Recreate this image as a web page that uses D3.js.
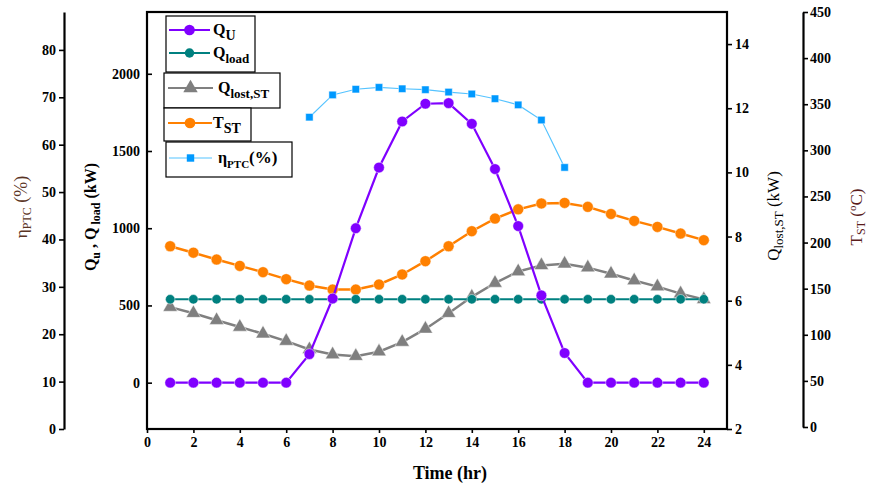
<!DOCTYPE html>
<html>
<head>
<meta charset="utf-8">
<script src="https://cdn.jsdelivr.net/npm/d3@7"></script>
<style>
  body { margin: 0; background: #fff; }
  svg text { font-family: "Liberation Serif", "Times New Roman", serif; }
  .tick text { font-size: 14px; font-weight: bold; fill: #000; }
</style>
</head>
<body>
<svg id="chart" width="870" height="486"></svg>
<script>
// 1. Data

var hours = [1, 2, 3, 4, 5, 6, 7, 8, 9, 10, 11, 12, 13, 14, 15, 16, 17, 18, 19, 20, 21, 22, 23, 24];

var qU = [0, 0, 0, 0, 0, 0, 185, 545, 1000, 1393, 1691, 1806, 1810, 1676, 1383, 1014, 565, 192, 0, 0, 0, 0, 0, 0];

var qLoad = [540, 540, 540, 540, 540, 540, 540, 540, 540, 540, 540, 540, 540, 540, 540, 540, 540, 540, 540, 540, 540, 540, 540, 540];

var qLost = [5.80, 5.61, 5.39, 5.18, 4.97, 4.74, 4.48, 4.32, 4.27, 4.41, 4.71, 5.12, 5.61, 6.12, 6.55, 6.91, 7.10, 7.15, 7.03, 6.84, 6.63, 6.44, 6.22, 6.04];

var tST = [196, 189, 181.6, 174.7, 167.9, 160.3, 153.4, 149, 149, 154.5, 165.4, 179.8, 196, 212.3, 226, 236, 242.4, 243, 238.7, 231, 223.5, 217, 209.8, 202.6];

var etaHours = [7, 8, 9, 10, 11, 12, 13, 14, 15, 16, 17, 18];
var eta = [65.8, 70.5, 71.7, 72.1, 71.8, 71.6, 71.1, 70.7, 69.7, 68.4, 65.2, 55.2];

var xTicks = [0, 2, 4, 6, 8, 10, 12, 14, 16, 18, 20, 22, 24];
var qTicks = [0, 500, 1000, 1500, 2000];
var etaTicks = [0, 10, 20, 30, 40, 50, 60, 70, 80];
var lostTicks = [2, 4, 6, 8, 10, 12, 14];
var tTicks = [0, 50, 100, 150, 200, 250, 300, 350, 400, 450];

// 2. Scales

var svg = d3.select("#chart");

var x = d3.scaleLinear().domain([0, 25]).range([147, 727]);
var yQ = d3.scaleLinear().domain([-300, 2400]).range([429, 12]);
var yLost = d3.scaleLinear().domain([2, 15]).range([429, 12]);
var yT = d3.scaleLinear().domain([0, 450]).range([427, 12]);
var yEta = d3.scaleLinear().domain([0, 88]).range([429, 12]);

var plain = d3.format("d");

// 3. Axes

svg.append("g")
    .attr("transform", "translate(0,429)")
    .call(d3.axisBottom(x).tickValues(xTicks).tickFormat(plain).tickSizeInner(4).tickSizeOuter(0).tickPadding(4))
    .call(function (g) { g.select(".domain").remove() });

svg.append("g")
    .attr("transform", "translate(147,0)")
    .call(d3.axisLeft(yQ).tickValues(qTicks).tickFormat(plain).tickSizeInner(-5).tickSizeOuter(0).tickPadding(7))
    .call(function (g) { g.select(".domain").remove() });

svg.append("g")
    .attr("transform", "translate(727,0)")
    .call(d3.axisRight(yLost).tickValues(lostTicks).tickFormat(plain).tickSizeInner(5).tickSizeOuter(0).tickPadding(3))
    .call(function (g) { g.select(".domain").remove() });

svg.append("g")
    .attr("transform", "translate(64,0)")
    .call(d3.axisLeft(yEta).tickValues(etaTicks).tickFormat(plain).tickSizeInner(5).tickSizeOuter(0).tickPadding(3));

svg.append("g")
    .attr("transform", "translate(803,0)")
    .call(d3.axisRight(yT).tickValues(tTicks).tickFormat(plain).tickSizeInner(5).tickSizeOuter(0).tickPadding(2));

svg.selectAll(".domain").attr("stroke-width", 2.2)
svg.selectAll(".tick line").attr("stroke-width", 1.6)

// plot frame
svg.append("rect")
    .attr("x", 147)
    .attr("y", 12)
    .attr("width", 580)
    .attr("height", 417)
    .attr("fill", "none")
    .attr("stroke", "black")
    .attr("stroke-width", 2.2)

// 4. Series

function drawLine(xs, ys, xScale, yScale, colour, width) {
    var line = d3.line()
        .x(function (d) { return xScale(d[0]) })
        .y(function (d) { return yScale(d[1]) });
    svg.append("path")
        .datum(d3.zip(xs, ys))
        .attr("d", line)
        .attr("fill", "none")
        .attr("stroke", colour)
        .attr("stroke-width", width)
}

function drawMarkers(xs, ys, xScale, yScale, colour, type, size) {
    svg.append("g")
        .selectAll("path")
        .data(d3.zip(xs, ys))
        .enter()
        .append("path")
        .attr("transform", function (d) { return "translate(" + xScale(d[0]) + "," + yScale(d[1]) + ")" })
        .attr("d", d3.symbol().type(type).size(size))
        .attr("fill", colour)
        .attr("stroke", "rgba(255,255,255,0.6)")
        .attr("stroke-width", 0.8)
}

drawLine(hours, tST, x, yT, "#ff8000", 2.5);
drawMarkers(hours, tST, x, yT, "#ff8000", d3.symbolCircle, 95);

drawLine(hours, qLost, x, yLost, "#808080", 2.5);
drawMarkers(hours, qLost, x, yLost, "#7f7f7f", d3.symbolTriangle, 90);

drawLine(hours, qLoad, x, yQ, "#008080", 2.2);
drawMarkers(hours, qLoad, x, yQ, "#00807f", d3.symbolCircle, 70);

drawLine(hours, qU, x, yQ, "#7f00ff", 2.2);
drawMarkers(hours, qU, x, yQ, "#8000ff", d3.symbolCircle, 90);

drawLine(etaHours, eta, x, yEta, "#55c3ff", 1.2);
drawMarkers(etaHours, eta, x, yEta, "#0099ff", d3.symbolSquare, 55);

// 5. Legend

var legendBoxes = [
    { x: 166, y: 16, w: 89, h: 56 },
    { x: 164, y: 73, w: 116, h: 35 },
    { x: 164, y: 108, w: 87, h: 33 },
    { x: 166, y: 142, w: 126, h: 35 }
];

svg.append("g")
    .selectAll("rect")
    .data(legendBoxes)
    .enter()
    .append("rect")
    .attr("x", function (d) { return d.x })
    .attr("y", function (d) { return d.y })
    .attr("width", function (d) { return d.w })
    .attr("height", function (d) { return d.h })
    .attr("fill", "white")
    .attr("stroke", "black")
    .attr("stroke-width", 1.2)

var legendItems = [
    { y: 30, x1: 169, x2: 210, colour: "#7f00ff", marker: "#8000ff", type: d3.symbolCircle, size: 90, tx: 213, main: "Q", sub: "U", subSize: 14 },
    { y: 53, x1: 169, x2: 210, colour: "#008080", marker: "#00807f", type: d3.symbolCircle, size: 70, tx: 213, main: "Q", sub: "load", subSize: 13 },
    { y: 88, x1: 168, x2: 213, colour: "#808080", marker: "#7f7f7f", type: d3.symbolTriangle, size: 90, tx: 218, main: "Q", sub: "lost,ST", subSize: 13 },
    { y: 123, x1: 168, x2: 212, colour: "#ff8000", marker: "#ff8000", type: d3.symbolCircle, size: 90, tx: 213, main: "T", sub: "ST", subSize: 14 },
    { y: 158, x1: 169, x2: 212, colour: "#55c3ff", marker: "#0099ff", type: d3.symbolSquare, size: 55, tx: 218, main: "\u03B7", sub: "PTC", subSize: 11, tail: "(%)" }
];

legendItems.forEach(function (d) {
    svg.append("line")
        .attr("x1", d.x1).attr("x2", d.x2)
        .attr("y1", d.y).attr("y2", d.y)
        .attr("stroke", d.colour)
        .attr("stroke-width", d.type === d3.symbolSquare ? 1.2 : 2.2)
    svg.append("path")
        .attr("transform", "translate(" + (d.x1 + d.x2) / 2 + "," + d.y + ")")
        .attr("d", d3.symbol().type(d.type).size(d.size))
        .attr("fill", d.marker)
    var t = svg.append("text")
        .attr("x", d.tx)
        .attr("y", d.y + 5)
        .attr("font-size", 16)
        .attr("font-weight", "bold")
    t.append("tspan").text(d.main)
    t.append("tspan").attr("dy", 5).attr("font-size", d.subSize).text(d.sub)
    if (d.tail) {
        t.append("tspan").attr("dy", -5).attr("font-size", 17).text(d.tail)
    }
})

// 6. Axis titles

var etaTitle = svg.append("text")
    .attr("transform", "translate(27,207) rotate(-90)")
    .attr("text-anchor", "middle")
    .attr("font-size", 17)
    .attr("fill", "#5a3424")
etaTitle.append("tspan").text("\u03B7")
etaTitle.append("tspan").attr("dy", 4).attr("font-size", 12).text("PTC")
etaTitle.append("tspan").attr("dy", -4).attr("font-size", 18).text(" (%)")

var qTitle = svg.append("text")
    .attr("transform", "translate(96,217) rotate(-90)")
    .attr("text-anchor", "middle")
    .attr("font-size", 16)
    .attr("font-weight", "bold")
qTitle.append("tspan").text("Q")
qTitle.append("tspan").attr("dy", 4).attr("font-size", 12).text("u")
qTitle.append("tspan").attr("dy", -4).text(" , Q")
qTitle.append("tspan").attr("dy", 4).attr("font-size", 12).text(" load")
qTitle.append("tspan").attr("dy", -4).text(" (kW)")

var lostTitle = svg.append("text")
    .attr("transform", "translate(779,216) rotate(-90)")
    .attr("text-anchor", "middle")
    .attr("font-size", 17)
lostTitle.append("tspan").text("Q")
lostTitle.append("tspan").attr("dy", 4).attr("font-size", 13).text("lost,ST")
lostTitle.append("tspan").attr("dy", -4).text(" (kW)")

var tTitle = svg.append("text")
    .attr("transform", "translate(862,217) rotate(-90)")
    .attr("text-anchor", "middle")
    .attr("font-size", 17)
    .attr("fill", "#5a1c1c")
tTitle.append("tspan").text("T")
tTitle.append("tspan").attr("dy", 3).attr("font-size", 12).text("ST")
tTitle.append("tspan").attr("dy", -3).text(" (")
tTitle.append("tspan").attr("dy", -6).attr("font-size", 11).text("o")
tTitle.append("tspan").attr("dy", 6).text("C)")

svg.append("text")
    .attr("x", 450)
    .attr("y", 479)
    .attr("text-anchor", "middle")
    .attr("font-size", 18)
    .attr("font-weight", "bold")
    .text("Time (hr)")
</script>
</body>
</html>
